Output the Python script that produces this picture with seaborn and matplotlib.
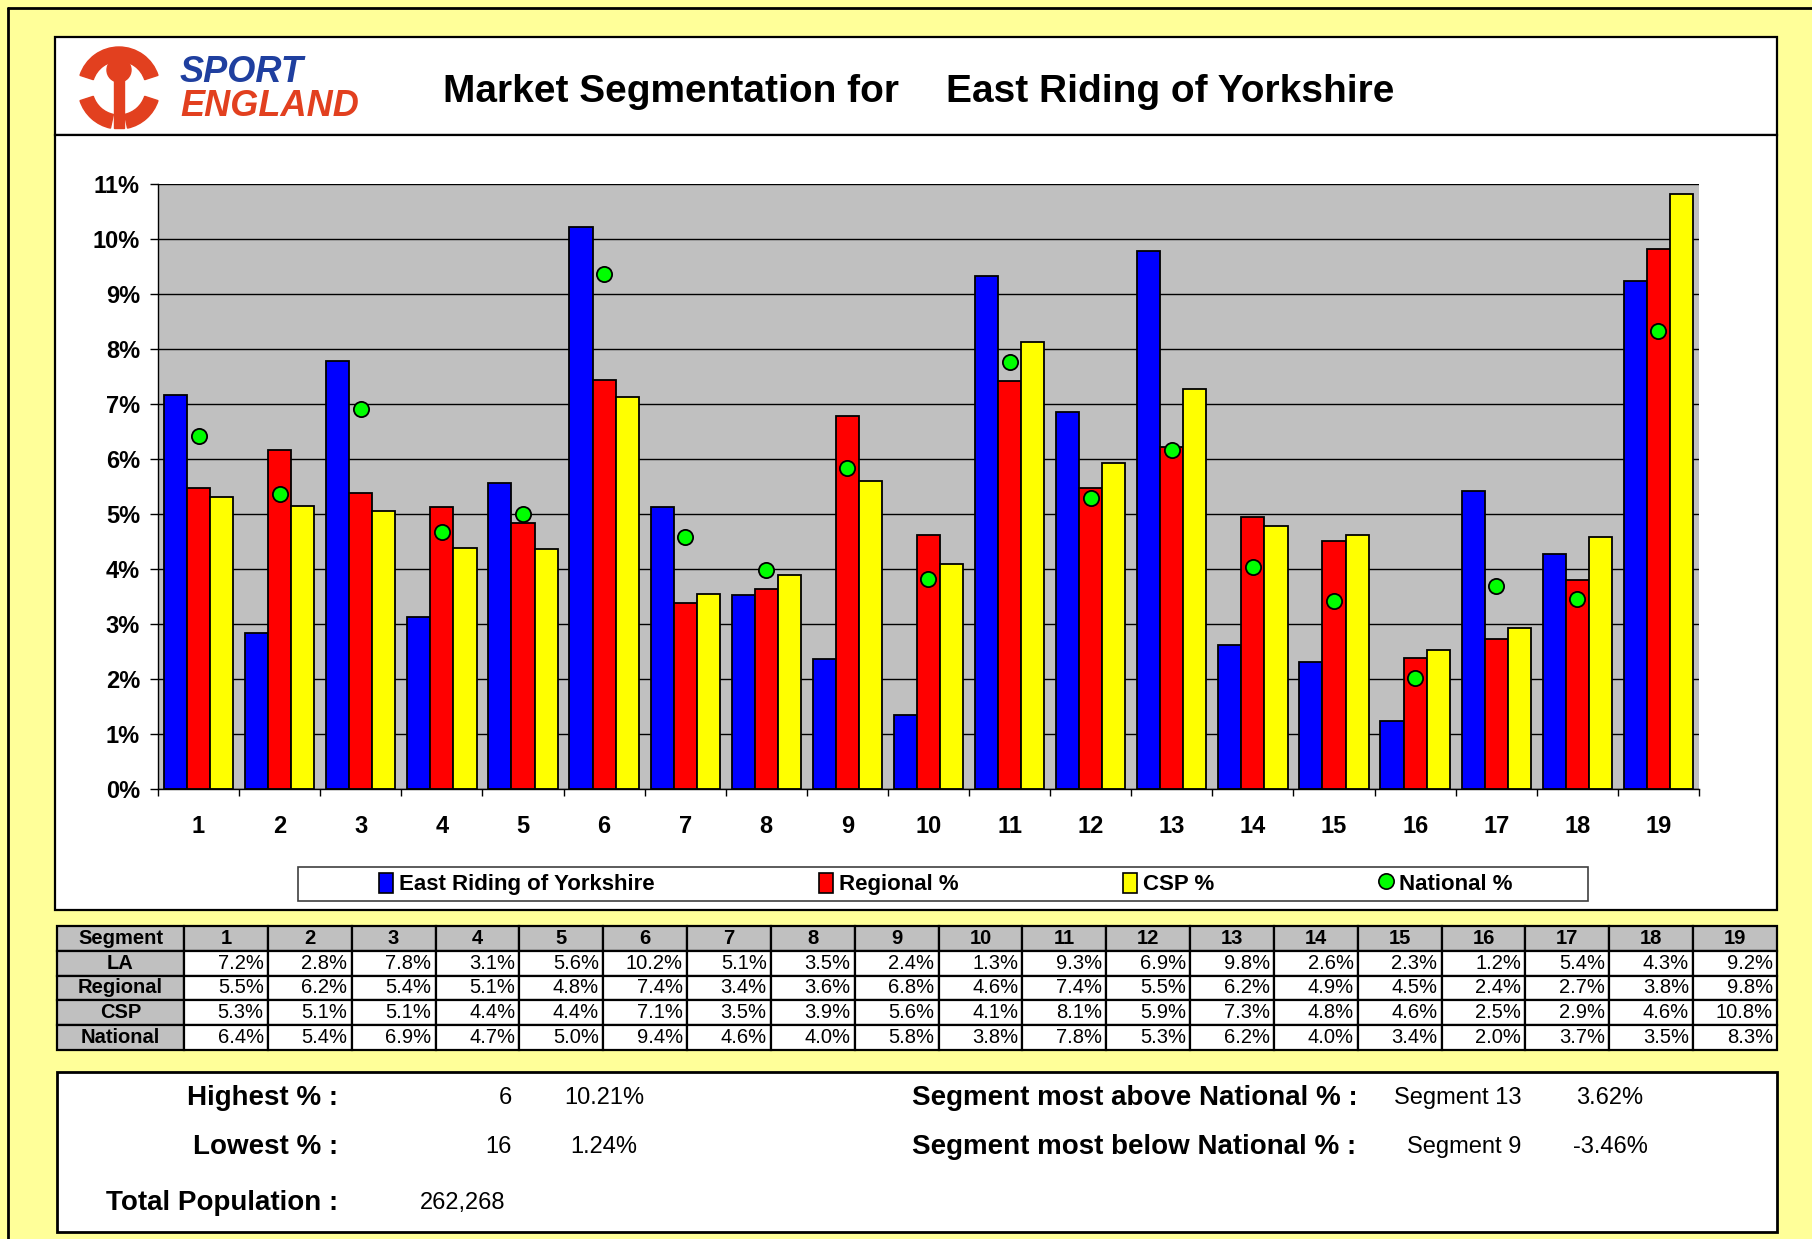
import matplotlib
matplotlib.use('Agg')
import matplotlib.pyplot as plt
import matplotlib.patches as mpatches
from matplotlib.lines import Line2D
import seaborn as sns
import numpy as np
import pandas as pd

segments = [str(i) for i in range(1, 20)]
la = [7.16, 2.83, 7.79, 3.13, 5.56, 10.21, 5.12, 3.53, 2.37, 1.34,
      9.32, 6.86, 9.79, 2.62, 2.31, 1.24, 5.42, 4.28, 9.24]
regional = [5.48, 6.17, 5.39, 5.12, 4.83, 7.43, 3.38, 3.63, 6.78, 4.62,
            7.41, 5.48, 6.21, 4.94, 4.51, 2.39, 2.73, 3.80, 9.82]
csp = [5.31, 5.14, 5.06, 4.39, 4.37, 7.12, 3.54, 3.90, 5.60, 4.09,
       8.12, 5.92, 7.28, 4.79, 4.62, 2.52, 2.92, 4.58, 10.81]
national = [6.42, 5.36, 6.91, 4.68, 5.00, 9.36, 4.58, 3.99, 5.83, 3.82,
            7.77, 5.29, 6.17, 4.03, 3.42, 2.02, 3.69, 3.46, 8.33]

area_name = 'East Riding of Yorkshire'
series_names = [area_name, 'Regional %', 'CSP %']
row_names = ['LA', 'Regional', 'CSP', 'National']
bar_colors = ['#0000FF', '#FF0000', '#FFFF00']
dot_color = '#00FF00'
total_population = '262,268'

W, H = 1812, 1239
sns.set_theme(style='white', rc={'text.color': 'black', 'axes.labelcolor': 'black',
                                 'xtick.color': 'black', 'ytick.color': 'black'})
plt.rcParams['font.family'] = ['Liberation Sans', 'DejaVu Sans']

fig = plt.figure(figsize=(W / 100, H / 100), dpi=100, facecolor='#FFFF99')


def fx(x):
    return x / W


def fy(y):
    return 1 - y / H


def box(x0, y0, x1, y1):
    return [fx(x0), fy(y1), (x1 - x0) / W, (y1 - y0) / H]


def panel(x0, y0, x1, y1, ec='black', lw=1.6):
    fig.patches.append(mpatches.Rectangle((fx(x0), fy(y1)), (x1 - x0) / W, (y1 - y0) / H,
                                          transform=fig.transFigure, facecolor='white',
                                          edgecolor=ec, lw=lw, zorder=-1))


# outer border (only top/left visible)
fig.add_artist(Line2D([fx(8), 1], [fy(8), fy(8)], color='black', lw=2))
fig.add_artist(Line2D([fx(8), fx(8)], [fy(8), 0], color='black', lw=2))

panel(55, 37, 1777, 135)
panel(55, 135, 1777, 910)
panel(57, 1072, 1777, 1232, lw=2)
panel(298, 867, 1588, 901, ec='#404040', lw=1.2)

# ---- logo ----
lax = fig.add_axes(box(70, 40, 380, 132))
lax.set_xlim(70, 380)
lax.set_ylim(-132, -40)
lax.axis('off')
red = '#E2401F'
cx, cy = 119, -88
lax.add_patch(mpatches.Wedge((cx, cy), 41, 18, 162, width=14, color=red))
lax.add_patch(mpatches.Wedge((cx, cy), 41, 198, 258, width=14, color=red))
lax.add_patch(mpatches.Wedge((cx, cy), 41, 282, 342, width=14, color=red))
lax.add_patch(mpatches.Circle((cx, -70), 12, color=red))
lax.add_patch(mpatches.Rectangle((cx - 5, -128), 10, 52, color=red))
lax.text(180, -73, 'SPORT', color='#1F3F9F', fontsize=26, fontweight='bold',
         fontstyle='italic', va='center', ha='left')
lax.text(180, -106, 'ENGLAND', color=red, fontsize=26, fontweight='bold',
         fontstyle='italic', va='center', ha='left')

# ---- title ----
fig.text(fx(443), fy(92), 'Market Segmentation for', fontsize=28, fontweight='bold', va='center')
fig.text(fx(946), fy(92), area_name, fontsize=28, fontweight='bold', va='center')

# ---- main chart ----
ax = fig.add_axes(box(158, 184, 1699, 789))
df = pd.DataFrame({
    'Segment': segments * 3,
    'Series': np.repeat(series_names, len(segments)),
    'Value': la + regional + csp,
})
sns.barplot(data=df, x='Segment', y='Value', hue='Series', order=segments,
            hue_order=series_names, palette=bar_colors, width=0.855, saturation=1,
            edgecolor='black', linewidth=1.3, errorbar=None, legend=False, ax=ax)
sns.scatterplot(x=np.arange(len(segments)), y=national, ax=ax, color=dot_color,
                edgecolor='black', linewidth=1.3, s=120, zorder=4, legend=False)

ax.set_facecolor('#C0C0C0')
ax.set_xlim(-0.5, len(segments) - 0.5)
ax.set_ylim(0, 11)
ax.set_yticks(range(12))
ax.yaxis.set_major_formatter(lambda v, p: f'{v:.0f}%')
ax.grid(axis='y', color='black', lw=1)
ax.grid(axis='x', visible=False)
ax.set_axisbelow(True)
ax.set_xlabel('')
ax.set_ylabel('')
ax.set_xticks(np.arange(-0.5, len(segments), 1))
ax.set_xticklabels([])
ax.set_xticks(np.arange(len(segments)), minor=True)
ax.set_xticklabels(segments, minor=True)
ax.tick_params(axis='x', which='major', length=5, width=1, color='black', direction='out', bottom=True)
ax.tick_params(axis='x', which='minor', length=0, pad=19, labelsize=17, bottom=True)
ax.tick_params(axis='y', length=6, width=1, color='black', direction='out', pad=7, labelsize=17, left=True)
for t in ax.get_xticklabels(minor=True) + ax.get_yticklabels():
    t.set_fontweight('bold')
for s in ['top', 'right']:
    ax.spines[s].set_visible(False)
for s in ['left', 'bottom']:
    ax.spines[s].set_color('black')
    ax.spines[s].set_linewidth(1)

handles = [mpatches.Patch(facecolor=c, edgecolor='black', lw=1.2) for c in bar_colors]
handles.append(Line2D([], [], ls='none', marker='o', markersize=11,
                      markerfacecolor=dot_color, markeredgecolor='black', markeredgewidth=1.2))
labels = series_names + ['National %']
fig.legend(handles, labels, loc='center', bbox_to_anchor=(fx(946), fy(884)), ncol=4,
           frameon=False, prop={'size': 16, 'weight': 'bold'}, columnspacing=7.4,
           handlelength=0.6, handleheight=1.05, handletextpad=0.3)

# ---- table ----
tax = fig.add_axes(box(57, 926, 1777, 1050))
tax.axis('off')
cell_text = [['Segment'] + segments]
for name, vals in zip(row_names, [la, regional, csp, national]):
    cell_text.append([name] + [f'{v:.1f}%' for v in vals])
first_w = 127 / 1720
col_widths = [first_w] + [(1 - first_w) / len(segments)] * len(segments)
tbl = tax.table(cellText=cell_text, colWidths=col_widths, bbox=[0, 0, 1, 1], cellLoc='right')
tbl.auto_set_font_size(False)
tbl.set_fontsize(14.5)
for (r, c), cell in tbl.get_celld().items():
    cell.set_linewidth(1.6)
    cell.set_edgecolor('black')
    cell.PAD = 0.05
    cell.get_text().set_color('black')
    if r == 0 or c == 0:
        cell.set_facecolor('#C0C0C0')
        cell._loc = 'center'
        cell.get_text().set_ha('center')
        cell.get_text().set_fontweight('bold')
    else:
        cell.set_facecolor('white')

# ---- summary box ----
la_arr = np.array(la)
diff = la_arr - np.array(national)
hi, lo = int(np.argmax(la_arr)), int(np.argmin(la_arr))
ab, be = int(np.argmax(diff)), int(np.argmin(diff))

lab = dict(fontsize=20, fontweight='bold', va='center')
val = dict(fontsize=17, va='center')
fig.text(fx(338), fy(1098), 'Highest % :', ha='right', **lab)
fig.text(fx(512), fy(1098), segments[hi], ha='right', **val)
fig.text(fx(604), fy(1098), f'{la_arr[hi]:.2f}%', ha='center', **val)
fig.text(fx(338), fy(1147), 'Lowest % :', ha='right', **lab)
fig.text(fx(512), fy(1147), segments[lo], ha='right', **val)
fig.text(fx(604), fy(1147), f'{la_arr[lo]:.2f}%', ha='center', **val)
fig.text(fx(338), fy(1203), 'Total Population :', ha='right', **lab)
fig.text(fx(420), fy(1203), total_population, ha='left', **val)
fig.text(fx(912), fy(1098), 'Segment most above National % :', ha='left', **lab)
fig.text(fx(1521), fy(1098), f'Segment {segments[ab]}', ha='right', **val)
fig.text(fx(1610), fy(1098), f'{diff[ab]:.2f}%', ha='center', **val)
fig.text(fx(912), fy(1147), 'Segment most below National % :', ha='left', **lab)
fig.text(fx(1521), fy(1147), f'Segment {segments[be]}', ha='right', **val)
fig.text(fx(1610), fy(1147), f'{diff[be]:.2f}%', ha='center', **val)

fig.savefig('out.png', dpi=100, facecolor=fig.get_facecolor())
